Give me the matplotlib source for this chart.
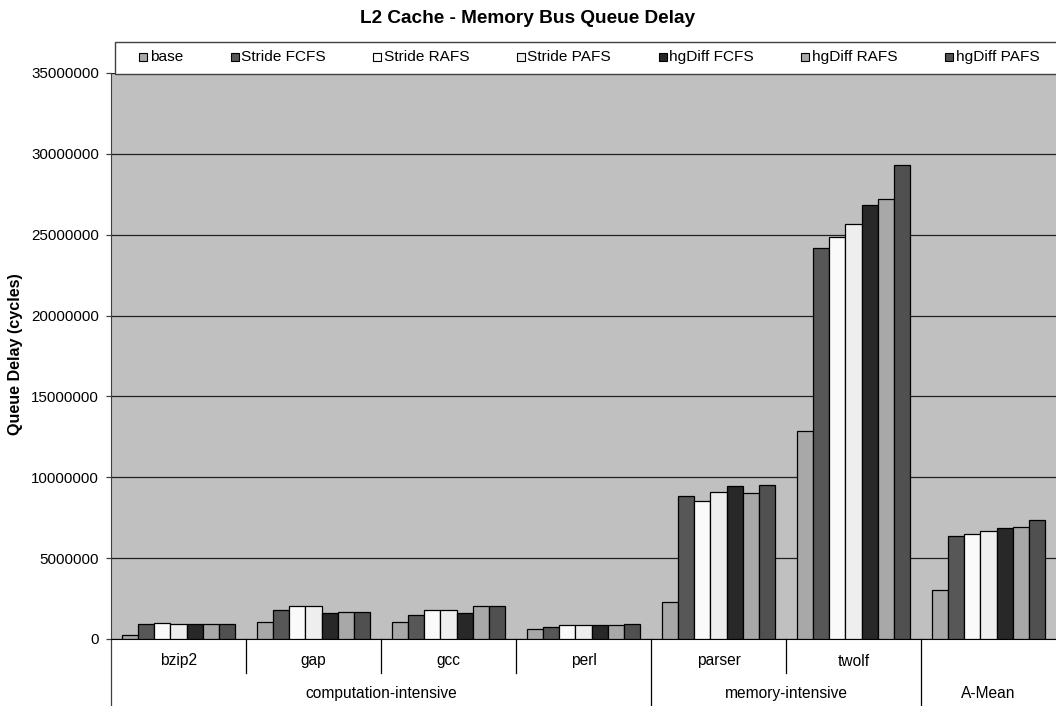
import matplotlib
matplotlib.use("Agg")
import matplotlib.pyplot as plt
from matplotlib.ticker import FuncFormatter, MultipleLocator
from matplotlib.patches import Rectangle

plt.rcParams['font.family'] = ['Liberation Sans', 'DejaVu Sans']

benchmarks = ["bzip2", "gap", "gcc", "perl", "parser", "twolf", ""]
groups = ["computation-intensive", "memory-intensive", "A-Mean"]
group_spans = [(0, 4), (4, 6), (6, 7)]

series_names = ["base", "Stride FCFS", "Stride RAFS", "Stride PAFS",
                "hgDiff FCFS", "hgDiff RAFS", "hgDiff PAFS"]

base        = [250000, 1030000, 1030000, 600000, 2290000, 12860000, 3040000]
stride_fcfs = [910000, 1780000, 1510000, 760000, 8870000, 24200000, 6340000]
stride_rafs = [970000, 2030000, 1780000, 850000, 8560000, 24860000, 6470000]
stride_pafs = [910000, 2030000, 1780000, 850000, 9090000, 25680000, 6700000]
hgdiff_fcfs = [950000, 1590000, 1630000, 850000, 9470000, 26820000, 6840000]
hgdiff_rafs = [950000, 1690000, 2030000, 850000, 9010000, 27200000, 6920000]
hgdiff_pafs = [950000, 1690000, 2030000, 930000, 9530000, 29340000, 7360000]

series_values = [base, stride_fcfs, stride_rafs, stride_pafs,
                 hgdiff_fcfs, hgdiff_rafs, hgdiff_pafs]
colors = ["#A8A8A8", "#575757", "#FAFAFA", "#EEEEEE",
          "#282828", "#A8A8A8", "#505050"]

W, H = 1056, 706
fig = plt.figure(figsize=(W / 100, H / 100), dpi=100)
ax = fig.add_axes([111 / W, (H - 639) / H, 945 / W, 566 / H])
ax.set_facecolor("#C0C0C0")


def fx(px):
    return px / W


def fy(py):
    return 1 - py / H


bar_w = 0.1195
n = len(series_names)
for j, (vals, col) in enumerate(zip(series_values, colors)):
    xs = [i + 0.5 + (j - (n - 1) / 2) * bar_w for i in range(len(vals))]
    ax.bar(xs, vals, width=bar_w, color=col, edgecolor="black",
           linewidth=0.9, zorder=3)

ax.set_xlim(0, 7)
ax.set_ylim(0, 35000000)
ax.yaxis.set_major_locator(MultipleLocator(5000000))
ax.yaxis.set_major_formatter(FuncFormatter(lambda v, p: f"{int(round(v))}"))
ax.yaxis.grid(True, color="#202020", linewidth=0.9, zorder=1)
ax.set_axisbelow(True)
ax.set_xticks([])
ax.tick_params(axis="y", direction="out", length=3.8, width=0.9,
               labelsize=10.9, pad=5, color="#404040")

for side in ["top", "right"]:
    ax.spines[side].set_visible(False)
ax.spines["left"].set_color("#404040")
ax.spines["bottom"].set_color("black")

# category labels and separators below the axis
tr = ax.get_xaxis_transform()
for i, name in enumerate(benchmarks):
    ax.text(i + 0.5, -(665.5 - 639) / 566, name, transform=tr,
            ha="center", va="baseline", fontsize=11.2)
for xb in range(1, 7):
    long_line = xb in (4, 6)
    y_end = -0.119 if long_line else -(673 - 639) / 566
    ax.plot([xb, xb], [0, y_end], transform=tr, color="black",
            linewidth=0.9, clip_on=False)
ax.plot([0, 0], [0, -0.119], transform=tr, color="#404040",
        linewidth=0.9, clip_on=False)
for g, (a, b) in zip(groups, group_spans):
    ax.text((a + b) / 2, -(698 - 639) / 566, g, transform=tr,
            ha="center", va="baseline", fontsize=11.2)

fig.text(fx(15.7), fy(354), "Queue Delay (cycles)", rotation=90,
         ha="center", va="center", fontsize=11.6, fontweight="bold")

fig.text(0.5, fy(22.7), "L2 Cache - Memory Bus Queue Delay",
         ha="center", va="baseline", fontsize=13.7, fontweight="bold")

# legend box across the top of the plot area
frame = Rectangle((fx(115), fy(74)), fx(1065) - fx(115), fy(42) - fy(74),
                  transform=fig.transFigure, facecolor="white",
                  edgecolor="#404040", linewidth=1.0, zorder=0)
fig.patches.append(frame)

renderer = fig.canvas.get_renderer()
x_px = 139.3
for name, col in zip(series_names, colors):
    sq = Rectangle((fx(x_px), fy(60.7)), fx(8), 8 / H,
                   transform=fig.transFigure, facecolor=col,
                   edgecolor="black", linewidth=0.8, zorder=2)
    fig.patches.append(sq)
    t = fig.text(fx(x_px + 10.5), fy(61), name, ha="left", va="baseline",
                 fontsize=11.1)
    bb = t.get_window_extent(renderer)
    x_px = bb.x1 + 47.5

fig.savefig("out.png", dpi=100)
